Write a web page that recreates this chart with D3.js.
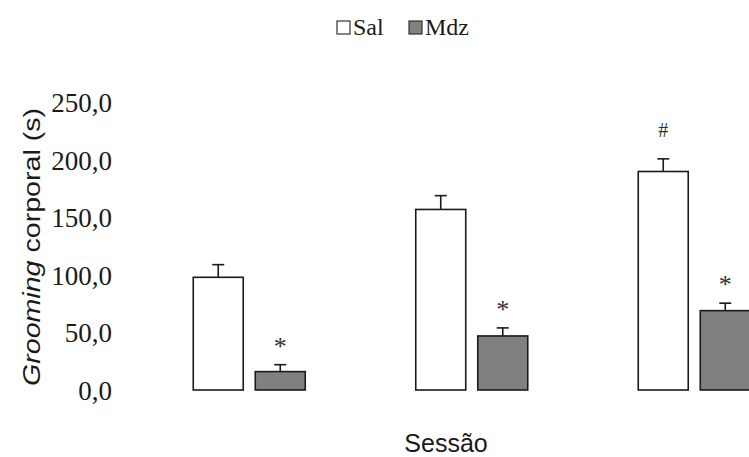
<!DOCTYPE html>
<html>
<head>
<meta charset="utf-8">
<script src="https://cdn.jsdelivr.net/npm/d3@7/dist/d3.min.js"></script>
<style>
  html, body { margin: 0; padding: 0; background: #fff; overflow: hidden; }
  svg { display: block; }
</style>
</head>
<body>
<svg id="chart" width="749" height="457"></svg>
<script>
// ---- data ----
const sessions = ["1", "2", "3"];
const seriesNames = ["Sal", "Mdz"];
const salValues = [98, 157, 190];
const salErrors = [11, 12, 11];
const mdzValues = [16, 47, 69];
const mdzErrors = [6, 7, 6.5];
const salMarks = ["", "", "#"];
const mdzMarks = ["*", "*", "*"];
const yTicks = [0, 50, 100, 150, 200, 250];

const svg = d3.select("#chart");
const fills = { Sal: "#ffffff", Mdz: "#808080" };

const rows = [];
sessions.forEach((s, i) => {
  rows.push({ session: s, series: "Sal", value: salValues[i], err: salErrors[i], mark: salMarks[i] });
  rows.push({ session: s, series: "Mdz", value: mdzValues[i], err: mdzErrors[i], mark: mdzMarks[i] });
});

const y = d3.scaleLinear().domain([0, 250]).range([390, 102.5]);
const x0 = d3.scaleBand().domain(sessions).range([138, 805.5]).paddingInner(0).paddingOuter(0);
const x1 = d3.scaleBand().domain(seriesNames).range([-56, 56]).paddingInner(0.194).paddingOuter(0);

const locale = d3.formatLocale({ decimal: ",", thousands: ".", grouping: [3], currency: ["", ""] });
const fmt = locale.format(".1f");

// y axis labels (no line, no ticks)
const yAxis = d3.axisLeft(y).tickValues(yTicks).tickFormat(fmt).tickSize(0).tickPadding(0);
const gy = svg.append("g").attr("transform", "translate(112,0)").call(yAxis);
gy.select(".domain").remove();
gy.selectAll("text")
  .attr("font-family", "'Liberation Serif', 'Times New Roman', serif")
  .attr("font-size", 27)
  .attr("fill", "#1a1a1a")
  .attr("dy", "0.34em");

// y title
const yt = svg.append("text")
  .attr("transform", "translate(40,247) rotate(-90)")
  .attr("text-anchor", "middle")
  .attr("font-family", "'Liberation Sans', Arial, sans-serif")
  .attr("font-size", 24)
  .attr("textLength", 278)
  .attr("lengthAdjust", "spacingAndGlyphs")
  .attr("fill", "#1a1a1a");
yt.append("tspan").attr("font-style", "italic").text("Grooming");
yt.append("tspan").text(" corporal (s)");

// x title
svg.append("text")
  .attr("x", 446).attr("y", 452)
  .attr("text-anchor", "middle")
  .attr("font-family", "'Liberation Sans', Arial, sans-serif")
  .attr("font-size", 25)
  .attr("fill", "#1a1a1a")
  .text("Sessão");

// bars
const groups = svg.append("g").selectAll("g").data(rows).join("g")
  .attr("transform", d => `translate(${x0(d.session) + x0.bandwidth() / 2 + x1(d.series)},0)`);

groups.append("rect")
  .attr("x", 0)
  .attr("y", d => y(d.value))
  .attr("width", x1.bandwidth())
  .attr("height", d => y(0) - y(d.value))
  .attr("fill", d => fills[d.series])
  .attr("stroke", "#1a1a1a")
  .attr("stroke-width", 1.6);

// error bars
const bw = x1.bandwidth();
groups.append("line")
  .attr("x1", bw / 2).attr("x2", bw / 2)
  .attr("y1", d => y(d.value)).attr("y2", d => y(d.value + d.err))
  .attr("stroke", "#1a1a1a").attr("stroke-width", 1.6);
groups.append("line")
  .attr("x1", bw / 2 - 6).attr("x2", bw / 2 + 6)
  .attr("y1", d => y(d.value + d.err)).attr("y2", d => y(d.value + d.err))
  .attr("stroke", "#1a1a1a").attr("stroke-width", 1.6);

// significance marks
groups.filter(d => d.mark === "*").append("text")
  .attr("x", bw / 2)
  .attr("y", d => y(d.value + d.err) - 10)
  .attr("text-anchor", "middle")
  .attr("font-family", "'Liberation Serif', 'Times New Roman', serif")
  .attr("font-size", 26)
  .attr("fill", "#333")
  .text(d => d.mark);
groups.filter(d => d.mark === "#").append("text")
  .attr("x", bw / 2)
  .attr("y", d => y(d.value + d.err) - 22)
  .attr("text-anchor", "middle")
  .attr("font-family", "'Liberation Serif', 'Times New Roman', serif")
  .attr("font-size", 20)
  .attr("fill", "#333")
  .text(d => d.mark);

// legend
const legend = svg.append("g");
const legendItems = [
  { name: "Sal", box: 337, text: 353 },
  { name: "Mdz", box: 409, text: 425 }
];
legend.selectAll("rect").data(legendItems).join("rect")
  .attr("x", d => d.box).attr("y", 21)
  .attr("width", 13).attr("height", 13)
  .attr("fill", d => fills[d.name])
  .attr("stroke", "#333").attr("stroke-width", 1.2);
legend.selectAll("text").data(legendItems).join("text")
  .attr("x", d => d.text).attr("y", 35)
  .attr("font-family", "'Liberation Serif', 'Times New Roman', serif")
  .attr("font-size", 24)
  .attr("fill", "#1a1a1a")
  .text(d => d.name);
</script>
</body>
</html>
